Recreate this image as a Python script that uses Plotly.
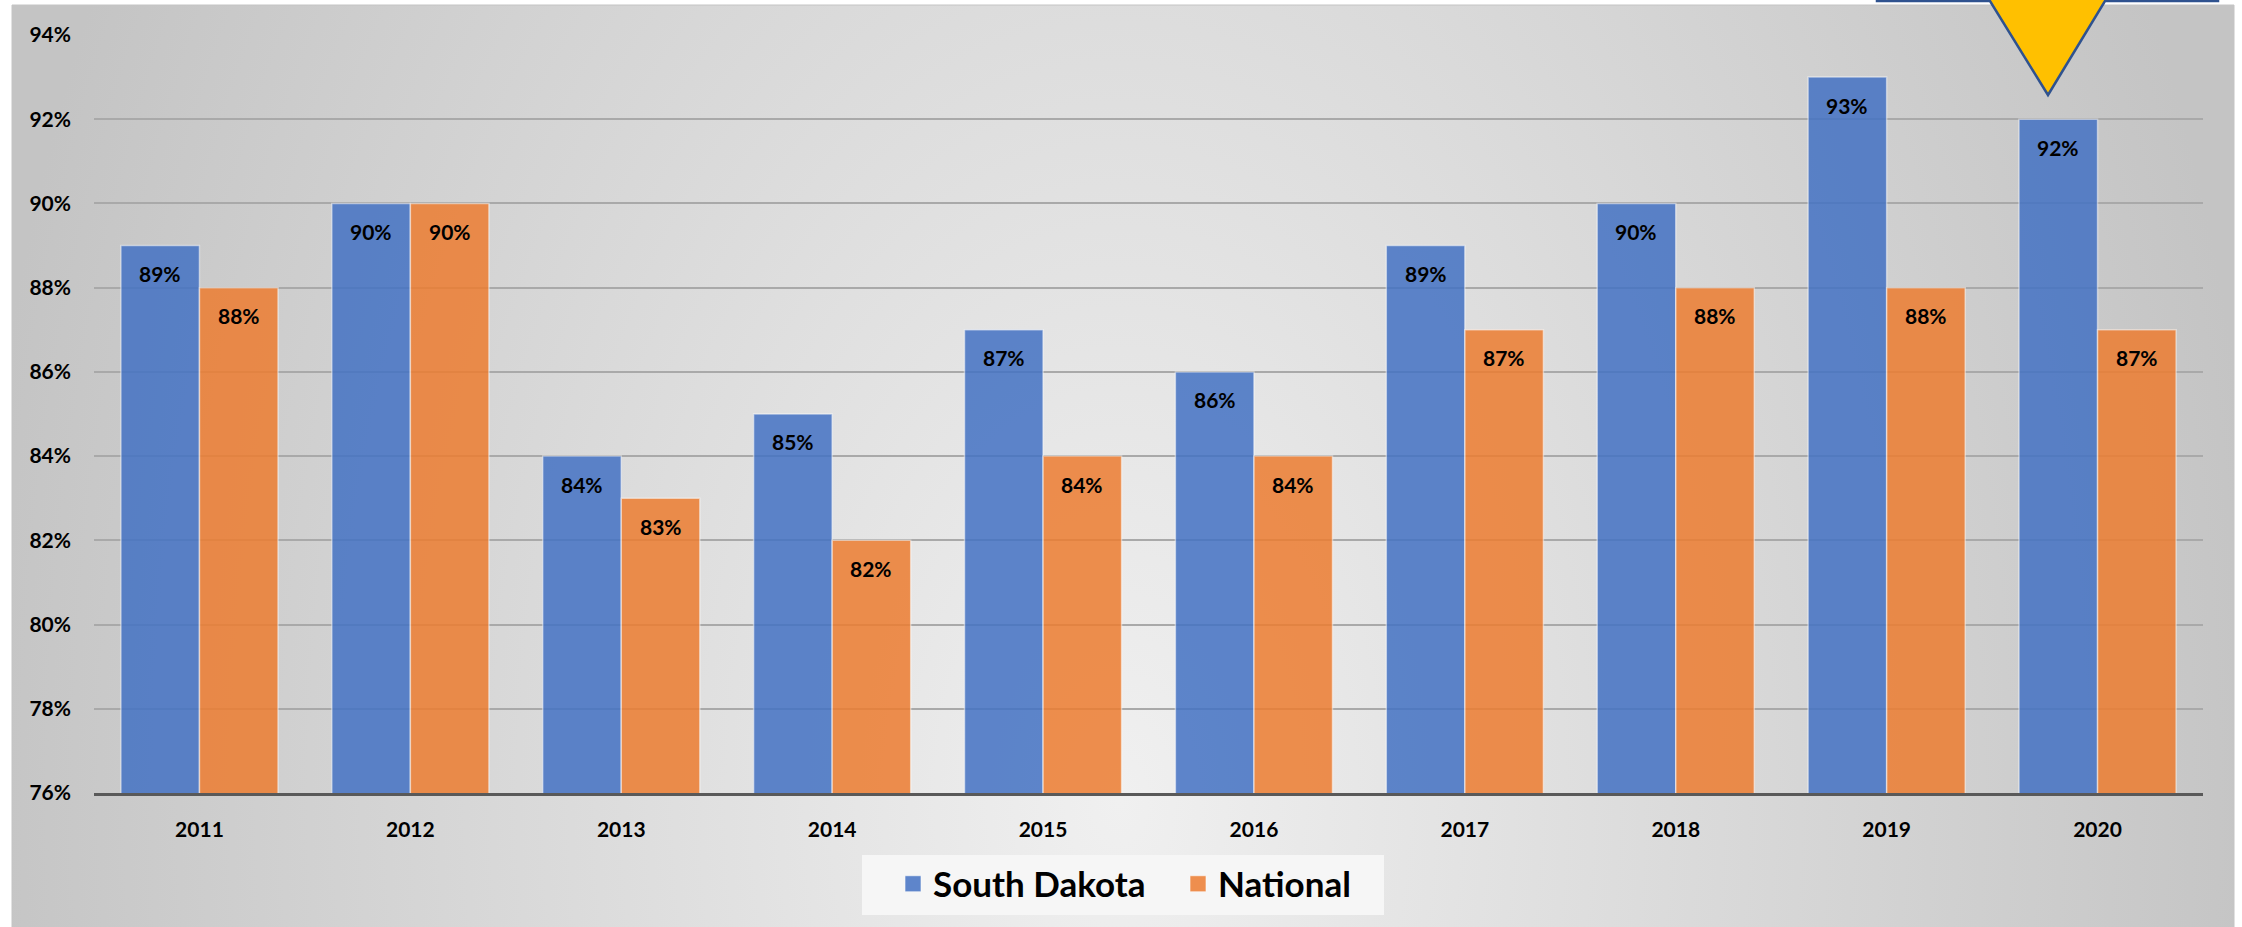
import plotly.graph_objects as go

# ---------------- data ----------------
years = ['2011', '2012', '2013', '2014', '2015', '2016', '2017', '2018', '2019', '2020']
south_dakota = [89, 90, 84, 85, 87, 86, 89, 90, 93, 92]
national = [88, 90, 83, 82, 84, 84, 87, 88, 88, 87]
y_ticks = [76, 78, 80, 82, 84, 86, 88, 90, 92, 94]
y_tick_labels = [f"{v}%" for v in y_ticks]
series_names = ['South Dakota', 'National']

# ---------------- layout helpers (pixel -> paper) ----------------
W, H = 2242, 927
def px(x):
    return x / W
def py(y):
    return 1 - y / H

FONT = 'Lato'
BLUE = '#4472c4'
ORANGE = '#ed7d31'

fig = go.Figure()

# background panel gradient (decorative)
fig.add_trace(go.Scatter(
    x=[-30, 2270, 2270, -30, -30], y=[-1000, -1000, 2600, 2600, -1000],
    fill='toself', mode='none',
    fillgradient=dict(type='radial', colorscale=[[0, '#f0f0f0'], [1, '#c4c4c4']]),
    hoverinfo='skip', showlegend=False, xaxis='x', yaxis='y'))

idx = list(range(len(years)))
for name, vals, col in [(series_names[0], south_dakota, BLUE), (series_names[1], national, ORANGE)]:
    fig.add_trace(go.Bar(
        x=idx, y=vals, name=name, xaxis='x2', yaxis='y2', showlegend=False,
        marker=dict(color=col, opacity=0.85, line=dict(color='rgba(255,255,255,0.55)', width=1.5)),
        hoverinfo='skip'))
    # legend entry with a larger square symbol
    fig.add_trace(go.Scatter(
        x=[None], y=[None], name=name, xaxis='x2', yaxis='y2', mode='markers',
        marker=dict(symbol='square', size=20, color=col, opacity=0.85,
                    line=dict(color='rgba(255,255,255,0.6)', width=1)),
        showlegend=True, hoverinfo='skip'))

# value labels inside the top of each bar
annotations = []
for vals, shift in [(south_dakota, -39.3), (national, 39.3)]:
    for i, v in zip(idx, vals):
        annotations.append(dict(
            x=i, y=v, xref='x2', yref='y2', text=f"{v}%", showarrow=False,
            xshift=shift, yshift=-28, yanchor='middle',
            font=dict(family=FONT, size=21, color='black', weight='bold')))

shapes = [
    # panel outline
    dict(type='rect', xref='paper', yref='paper', x0=px(12), x1=px(2234), y0=py(935), y1=py(5),
         line=dict(color='#c4c4c4', width=1), fillcolor='rgba(0,0,0,0)', layer='above'),
    # legend box
    dict(type='rect', xref='paper', yref='paper', x0=px(862), x1=px(1384), y0=py(915), y1=py(855),
         line=dict(width=0), fillcolor='#f6f6f6', layer='above'),
    # yellow callout pointer at top right
    dict(type='path', xref='paper', yref='paper',
         path=(f"M {px(1877)},{py(-60)} L {px(1877)},{py(1)} L {px(1990)},{py(1)} "
               f"L {px(2048)},{py(95)} L {px(2105)},{py(1)} L {px(2218)},{py(1)} "
               f"L {px(2218)},{py(-60)} Z"),
         fillcolor='#ffc000', line=dict(color='#2f528f', width=2.5), layer='above'),
]

fig.update_layout(
    template='none',
    width=W, height=H, margin=dict(l=0, r=0, t=0, b=0, autoexpand=False),
    paper_bgcolor='white', plot_bgcolor='rgba(0,0,0,0)',
    barmode='group', bargap=0.255, bargroupgap=0,
    showlegend=True,
    legend=dict(orientation='h', x=px(893), xanchor='left', y=py(884), yanchor='middle',
                bgcolor='rgba(0,0,0,0)', font=dict(family=FONT, size=35, color='black', weight='bold'),
                itemsizing='trace', entrywidth=240, traceorder='normal'),
    xaxis=dict(domain=[px(12), px(2234)], range=[12, 2234], visible=False, fixedrange=True,
               automargin=False),
    yaxis=dict(domain=[0, py(5)], range=[927, 5], visible=False, fixedrange=True,
               automargin=False),
    xaxis2=dict(domain=[px(94), px(2203)], anchor='y2', range=[-0.5, 9.5],
                tickvals=idx, ticktext=years,
                showline=True, linecolor='#595959', linewidth=3, ticks='',
                showgrid=False, zeroline=False, ticklabelstandoff=16, automargin=False,
                tickfont=dict(family=FONT, size=21, color='black', weight='bold')),
    yaxis2=dict(domain=[py(793), py(35)], anchor='x2', range=[76, 94],
                tickvals=y_ticks, ticktext=y_tick_labels, ticks='',
                showline=False, zeroline=False, gridcolor='#a9a9a9', gridwidth=1.5,
                ticklabelstandoff=22, automargin=False,
                tickfont=dict(family=FONT, size=21, color='black', weight='bold')),
    annotations=annotations, shapes=shapes,
)

fig.write_html("out.html", config={'displayModeBar': False},
               post_script="document.body.style.margin='0';")
